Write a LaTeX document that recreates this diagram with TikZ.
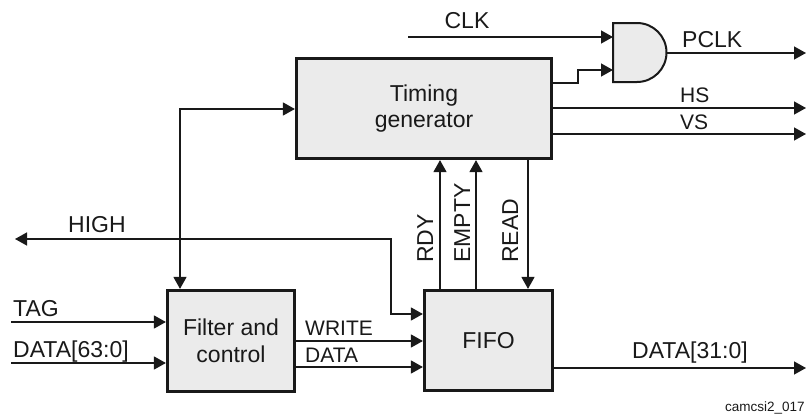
\documentclass[tikz,border=0pt]{standalone}
\usepackage{fontspec}
\setmainfont{Liberation Sans}
\usetikzlibrary{arrows.meta}
\definecolor{boxfill}{RGB}{235,235,235}
\definecolor{ink}{RGB}{25,25,25}
\begin{document}
\begin{tikzpicture}[x=1pt,y=-1pt,
  blk/.style={draw=ink, fill=boxfill, line width=3.2pt, inner sep=0pt, align=center, text=ink,
    font=\fontsize{23}{26.5}\selectfont},
  tipshape/.tip={Triangle[length=12pt,width=13pt]},
  wire/.style={draw=ink, line width=1.4pt, -tipshape},
  dwire/.style={draw=ink, line width=1.4pt, tipshape-tipshape},
  lbl/.style={font=\fontsize{23}{26}\selectfont, inner sep=0pt, text=ink},
  slbl/.style={font=\fontsize{21}{24}\selectfont, inner sep=0pt, text=ink},
  gate/.style={draw=ink, fill=boxfill, line width=2pt},
]
\useasboundingbox (0,0) rectangle (807,415);

% blocks
\node[blk, minimum width=255pt, minimum height=100pt] (timing) at (424,108.5) {Timing\\generator};
\node[blk, minimum width=127pt, minimum height=101pt] (filter) at (231,341) {Filter and\\control};
\node[blk, minimum width=128pt, minimum height=100pt] (fifo) at (488.5,340.5) {FIFO};

% AND gate
\draw[gate] (613,23) -- (637,23)
  .. controls (653.3,23) and (666.5,36.2) .. (666.5,52.5)
  .. controls (666.5,68.8) and (653.3,82) .. (637,82) -- (613,82) -- cycle;
\coordinate (g1) at (613,37);
\coordinate (g2) at (613,70);
\coordinate (gout) at (666.5,53);

% free ends and bends
\coordinate (clkL) at (408,37);
\coordinate (pclkR) at (806,53);
\coordinate (ty) at (578,83);
\coordinate (hsR) at (806,108);
\coordinate (vsR) at (806,134);
\coordinate (bendA) at (180,109);
\coordinate (highL) at (15,239);
\coordinate (highB) at (391,239);
\coordinate (hy) at (391,314);
\coordinate (tagL) at (11,322);
\coordinate (d63L) at (11,363);
\coordinate (wy) at (300,341);
\coordinate (dy) at (300,367);
\coordinate (outR) at (806,368);
\coordinate (rdyx) at (440,0);
\coordinate (emptyx) at (476,0);
\coordinate (readx) at (528,0);

% connectors
\draw[wire] (clkL) -- (g1);
\draw[wire] (timing.east |- ty) -- (ty) -- (ty |- g2) -- (g2);
\draw[wire] (gout) -- (pclkR);
\draw[wire] (timing.east |- hsR) -- (hsR);
\draw[wire] (timing.east |- vsR) -- (vsR);
\draw[dwire] (timing.west |- bendA) -- (bendA) -- (filter.north -| bendA);
\draw[dwire] (highL) -- (highB) -- (hy) -- (fifo.west |- hy);
\draw[wire] (tagL) -- (filter.west |- tagL);
\draw[wire] (d63L) -- (filter.west |- d63L);
\draw[wire] (filter.east |- wy) -- (fifo.west |- wy);
\draw[wire] (filter.east |- dy) -- (fifo.west |- dy);
\draw[wire] (fifo.east |- outR) -- (outR);
\draw[wire] (fifo.north -| rdyx) -- (timing.south -| rdyx);
\draw[wire] (fifo.north -| emptyx) -- (timing.south -| emptyx);
\draw[wire] (timing.south -| readx) -- (fifo.north -| readx);

% labels
\node[lbl, anchor=base] (lclk) at (467,28) {CLK};
\node[lbl, anchor=base west] (lpclk) at (682,47) {PCLK};
\node[slbl, anchor=base west] (lhs) at (680,102) {HS};
\node[slbl, anchor=base west] (lvs) at (680,129) {VS};
\node[lbl, anchor=base west] (lhigh) at (68,232) {HIGH};
\node[lbl, anchor=base west] (ltag) at (13,316) {TAG};
\node[lbl, anchor=base west] (ld63) at (13,357) {DATA[63:0]};
\node[slbl, anchor=base west] (lwrite) at (305,335) {WRITE};
\node[slbl, anchor=base west] (ldata) at (305,362) {DATA};
\node[lbl, anchor=base west] (ld31) at (632,358) {DATA[31:0]};
\node[lbl, anchor=base west, rotate=90] (lrdy) at (433,263) {RDY};
\node[lbl, anchor=base west, rotate=90] (lempty) at (470,263) {EMPTY};
\node[lbl, anchor=base west, rotate=90] (lread) at (518,263) {READ};
\node[inner sep=0pt, anchor=base west, text=ink, font=\fontsize{13.5}{15}\selectfont] (lfoot) at (725,411) {camcsi2\_017};
\end{tikzpicture}
\end{document}
